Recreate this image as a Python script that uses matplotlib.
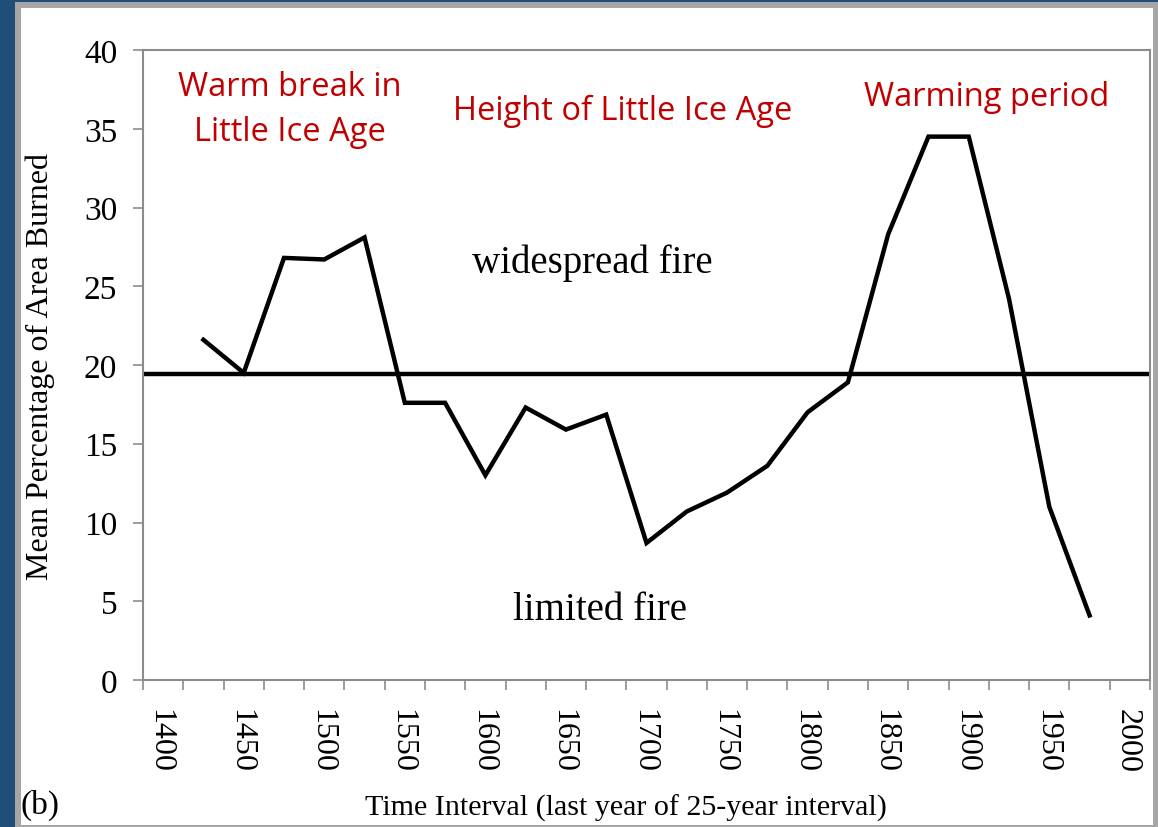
import numpy as np
import matplotlib.pyplot as plt
import matplotlib.transforms as mtransforms
from matplotlib.patches import Rectangle

# last year of each 25-year interval
years = [1425, 1450, 1475, 1500, 1525, 1550, 1575, 1600, 1625, 1650, 1675, 1700,
         1725, 1750, 1775, 1800, 1825, 1850, 1875, 1900, 1925, 1950, 1975]
area_burned = [21.6, 19.5, 26.8, 26.7, 28.1, 17.6, 17.6, 13.0, 17.3, 15.9, 16.85, 8.7,
               10.7, 11.9, 13.6, 17.0, 18.9, 28.3, 34.5, 34.5, 24.2, 11.0, 4.1]
mean_line = 19.4

tick_years = list(range(1400, 2001, 50))
red_labels = ["Warm break in\nLittle Ice Age", "Height of Little Ice Age", "Warming period"]

serif = ["Liberation Serif", "DejaVu Serif"]
red = "#c00000"
gray = "#8c8c8c"

fig = plt.figure(figsize=(11.58, 8.28), dpi=100)
fig.patch.set_facecolor("#1f4e79")

# white panel with grey border
fig.patches.append(Rectangle((15 / 1158, 0), 1.0 - 15 / 1158, 1.0 - 3 / 828,
                             transform=fig.transFigure, facecolor="#a6a6a6",
                             edgecolor="none", zorder=-3))
fig.patches.append(Rectangle((21 / 1158, 2 / 828), (1153 - 21) / 1158, (819 - 2) / 828,
                             transform=fig.transFigure, facecolor="white",
                             edgecolor="none", zorder=-2))

ax = fig.add_axes([143 / 1158, 1 - 681 / 828, (1150 - 143) / 1158, (681 - 51) / 828])
ax.set_facecolor("white")

ax.plot(years, area_burned, color="black", lw=3.2, solid_joinstyle="miter", zorder=3)
ax.axhline(mean_line, color="black", lw=3.2, zorder=2)

ax.set_xlim(1387.5, 2012.5)
ax.set_ylim(0, 40)
ax.set_yticks(range(0, 41, 5))
ax.set_xticks(np.arange(1387.5, 2013, 25))
ax.set_xticklabels([])
ax.set_xticks(tick_years, minor=True)
ax.set_xticklabels([str(y) for y in tick_years], minor=True, rotation=-90,
                   fontsize=23, family=serif)
ax.tick_params(axis="x", which="minor", length=0, pad=20)
ax.tick_params(axis="x", which="major", length=7.5, width=1.2, color=gray, direction="out")
ax.tick_params(axis="y", length=7.5, width=1.2, color=gray, direction="out", pad=11)
for lbl in ax.get_yticklabels():
    lbl.set_fontsize(24)
    lbl.set_family(serif)

shift = mtransforms.ScaledTranslation(-3 / 100, 0, fig.dpi_scale_trans)
for lbl in ax.get_xticklabels(minor=True):
    lbl.set_transform(lbl.get_transform() + shift)

for s in ax.spines.values():
    s.set_color(gray)
    s.set_linewidth(1.5)

ax.set_ylabel("Mean Percentage of Area Burned", fontsize=23, family=serif)
ax.yaxis.set_label_coords(-0.087, 0.5)
fig.text(626 / 1158, 1 - 808 / 828, "Time Interval (last year of 25-year interval)",
         ha="center", va="center", fontsize=21.6, family=serif)
fig.text(20 / 1158, 1 - 805 / 828, "(b)", ha="left", va="center", fontsize=24, family=serif)

txt_kw = dict(ha="center", va="center", color=red, fontsize=23.5, family=["Open Sans", "DejaVu Sans"])
fig.text(290 / 1158, 1 - 110 / 828, red_labels[0], linespacing=1.45, **txt_kw)
fig.text(623 / 1158, 1 - 111 / 828, red_labels[1], **txt_kw)
fig.text(987 / 1158, 1 - 97 / 828, red_labels[2], **txt_kw)
fig.text(592 / 1158, 1 - 263 / 828, "widespread fire", ha="center", va="center",
         fontsize=28, family=serif)
fig.text(600 / 1158, 1 - 611 / 828, "limited fire", ha="center", va="center",
         fontsize=28, family=serif)

fig.savefig("out.png", dpi=100, facecolor=fig.get_facecolor())
